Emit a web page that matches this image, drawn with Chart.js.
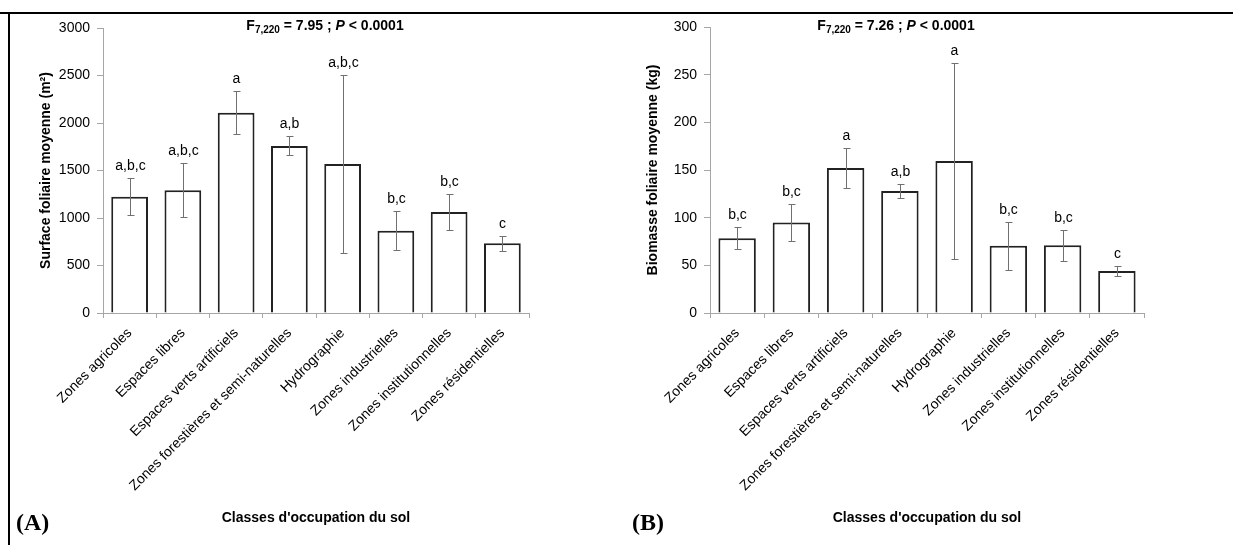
<!DOCTYPE html>
<html>
<head>
<meta charset="utf-8">
<script src="https://cdn.jsdelivr.net/npm/chart.js@4.4.1/dist/chart.umd.min.js"></script>
<style>
  body { margin: 0; background: #fff; }
  #wrap { position: relative; width: 1233px; height: 545px; overflow: hidden; }
  canvas { position: absolute; top: 0; }
  #chartA { left: 0; }
  #chartB { left: 607px; }
  .topline { position: absolute; left: 0; top: 12px; width: 1233px; height: 2px; background: #000; }
  .leftline { position: absolute; left: 8px; top: 12px; width: 2px; height: 533px; background: #000; }
</style>
</head>
<body>
<div id="wrap">
  <canvas id="chartA" width="607" height="545"></canvas>
  <canvas id="chartB" width="626" height="545"></canvas>
  <div class="topline"></div>
  <div class="leftline"></div>
</div>
<script>
const categories = [
    "Zones agricoles",
    "Espaces libres",
    "Espaces verts artificiels",
    "Zones forestières et semi-naturelles",
    "Hydrographie",
    "Zones industrielles",
    "Zones institutionnelles",
    "Zones résidentielles"
];

// (A) surface foliaire moyenne (m²)
const surfaceMean = [1224, 1291, 2108, 1758, 1568, 866, 1063, 733];
const surfaceErr = [197, 283, 228, 100, 935, 203, 190, 82];
const surfaceLetters = ["a,b,c", "a,b,c", "a", "a,b", "a,b,c", "b,c", "b,c", "c"];
const surfaceTicks = [0, 500, 1000, 1500, 2000, 2500, 3000];

// (B) biomasse foliaire moyenne (kg)
const biomassMean = [78.5, 95, 152, 128, 159.5, 70.5, 71, 44];
const biomassErr = [11.7, 19, 21, 7, 103, 25, 16, 5];
const biomassLetters = ["b,c", "b,c", "a", "a,b", "a", "b,c", "b,c", "c"];
const biomassTicks = [0, 50, 100, 150, 200, 250, 300];

const FONT = "'Liberation Sans', Arial, sans-serif";
const AXIS_GREY = "#a6a6a6";

// error bars + significance letters
const errorBars = {
    id: "errorBars",
    afterDatasetsDraw(chart, args, opts) {
        const ctx = chart.ctx;
        const x = chart.scales.x, y = chart.scales.y;
        const means = chart.data.datasets[0].data;
        ctx.save();
        ctx.strokeStyle = "#707070";
        ctx.lineWidth = 1;
        ctx.fillStyle = "#000";
        ctx.font = "14px " + FONT;
        ctx.textAlign = "center";
        ctx.textBaseline = "middle";
        means.forEach((m, i) => {
            const px = Math.round(x.getPixelForValue(i)) + 0.5;
            const top = Math.round(y.getPixelForValue(m + opts.err[i])) + 0.5;
            const bot = Math.round(y.getPixelForValue(m - opts.err[i])) + 0.5;
            ctx.beginPath();
            ctx.moveTo(px, top); ctx.lineTo(px, bot);
            ctx.moveTo(px - 3, top); ctx.lineTo(px + 4, top);
            ctx.moveTo(px - 3, bot); ctx.lineTo(px + 4, bot);
            ctx.stroke();
            ctx.fillText(opts.letters[i], px, top - 12);
        });
        ctx.restore();
    }
};

// F statistic line above the plot
const statText = {
    id: "statText",
    afterDraw(chart, args, opts) {
        const ctx = chart.ctx;
        const parts = [
            { t: "F", f: "bold 14px " + FONT, dy: 0 },
            { t: "7,220", f: "bold 10px " + FONT, dy: 3 },
            { t: " = " + opts.f + " ; ", f: "bold 14px " + FONT, dy: 0 },
            { t: "P", f: "italic bold 14px " + FONT, dy: 0 },
            { t: " < 0.0001", f: "bold 14px " + FONT, dy: 0 }
        ];
        ctx.save();
        ctx.fillStyle = "#000";
        ctx.textBaseline = "alphabetic";
        let total = 0;
        parts.forEach(p => { ctx.font = p.f; p.w = ctx.measureText(p.t).width; total += p.w; });
        let cx = opts.x - total / 2;
        parts.forEach(p => {
            ctx.font = p.f;
            ctx.fillText(p.t, cx, opts.y + p.dy);
            cx += p.w;
        });
        ctx.restore();
    }
};

// panel letter (A)/(B)
const panelTag = {
    id: "panelTag",
    afterDraw(chart, args, opts) {
        const ctx = chart.ctx;
        ctx.save();
        ctx.fillStyle = "#000";
        ctx.font = "bold 24px 'Liberation Serif', 'Times New Roman', serif";
        ctx.textBaseline = "alphabetic";
        ctx.fillText(opts.text, opts.x, opts.y);
        ctx.restore();
    }
};

function makeChart(canvas, means, errs, letters, ticks, yTitle, extra) {
    const yMax = ticks[ticks.length - 1];
    return new Chart(canvas, {
        type: "bar",
        data: {
            labels: categories,
            datasets: [{
                data: means,
                backgroundColor: "#fff",
                borderColor: "#222",
                borderWidth: 2,
                categoryPercentage: 1,
                barPercentage: 0.69
            }]
        },
        plugins: [errorBars, statText, panelTag],
        options: {
            responsive: false,
            animation: false,
            events: [],
            layout: { padding: { top: extra.top, right: extra.right, left: 0, bottom: 0 } },
            plugins: {
                legend: { display: false },
                tooltip: { enabled: false },
                errorBars: { err: errs, letters: letters },
                statText: { f: extra.f, x: extra.statX, y: 30 },
                panelTag: { text: extra.tag, x: extra.tagX, y: 530 }
            },
            scales: {
                x: {
                    grid: { display: true, drawOnChartArea: false, tickLength: 5, color: AXIS_GREY, offset: true },
                    border: { color: AXIS_GREY, width: 1 },
                    ticks: {
                        autoSkip: false, minRotation: 45, maxRotation: 45,
                        color: "#000", padding: 7,
                        font: { family: FONT, size: 14 }
                    },
                    title: {
                        display: true, text: "Classes d'occupation du sol", color: "#000",
                        font: { family: FONT, size: 14, weight: "bold" },
                        padding: { top: 0, bottom: 18 }
                    },
                    afterFit: s => { s.height = 545 - extra.bottom; }
                },
                y: {
                    min: 0, max: yMax,
                    afterBuildTicks: s => { s.ticks = ticks.map(v => ({ value: v })); },
                    grid: { display: true, drawOnChartArea: false, tickLength: 6, color: AXIS_GREY },
                    border: { color: AXIS_GREY, width: 1 },
                    ticks: {
                        color: "#000", padding: 7, font: { family: FONT, size: 14 },
                        callback: v => String(v)
                    },
                    title: {
                        display: true, text: yTitle, color: "#000",
                        font: { family: FONT, size: 14, weight: "bold" },
                        padding: { top: extra.yTitlePad, bottom: 0 }
                    },
                    afterFit: s => { s.width = extra.left; }
                }
            }
        }
    });
}

makeChart(document.getElementById("chartA"), surfaceMean, surfaceErr, surfaceLetters, surfaceTicks,
    "Surface foliaire moyenne (m²)",
    { top: 28, bottom: 313, left: 103, right: 607 - 529, f: "7.95", statX: 325, tag: "(A)", tagX: 16, yTitlePad: 38 });

makeChart(document.getElementById("chartB"), biomassMean, biomassErr, biomassLetters, biomassTicks,
    "Biomasse foliaire moyenne (kg)",
    { top: 27, bottom: 313, left: 103, right: 626 - 537, f: "7.26", statX: 289, tag: "(B)", tagX: 25, yTitlePad: 38 });
</script>
</body>
</html>
